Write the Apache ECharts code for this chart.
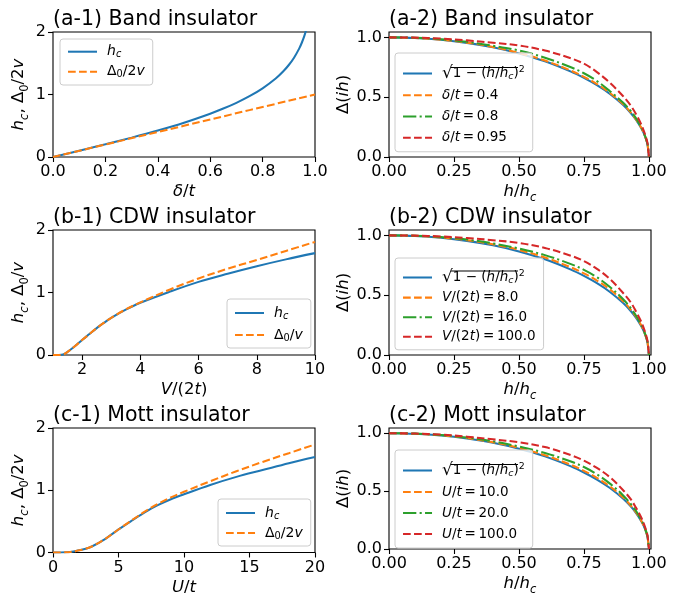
<!DOCTYPE html>
<html>
<head>
<meta charset="utf-8">
<script src="https://cdn.jsdelivr.net/npm/echarts@6/dist/echarts.min.js"></script>
<style>
html,body{margin:0;padding:0;background:#fff;}
#chart{width:681px;height:597px;}
</style>
</head>
<body>
<div id="chart"></div>
<script>
// ---------- DATA ----------
// (a-1) Band insulator
const deltaA = [0, 0.1, 0.2, 0.3, 0.4, 0.5, 0.6, 0.65, 0.7, 0.75, 0.8, 0.85, 0.88, 0.9, 0.92, 0.94, 0.95, 0.96, 0.97];
const hcA    = [0, 0.1, 0.203, 0.31, 0.424, 0.549, 0.693, 0.775, 0.867, 0.973, 1.099, 1.256, 1.376, 1.472, 1.589, 1.738, 1.832, 1.946, 2.09];
const deltaA_gap = [0, 0.25, 0.5, 0.75, 1.0];
const gapA       = [0, 0.25, 0.5, 0.75, 1.0];

// (b-1) CDW insulator
const vB  = [1.0, 1.2, 1.35, 1.5, 1.75, 2.0, 2.25, 2.5, 2.75, 3.0, 3.5, 4.0, 5.0, 6.0, 7.0, 8.0, 9.0, 10.0];
const hcB = [0, 0, 0.008, 0.05, 0.14, 0.24, 0.335, 0.43, 0.515, 0.595, 0.725, 0.835, 1.01, 1.17, 1.30, 1.42, 1.53, 1.63];
const gapB= [0, 0, 0.008, 0.05, 0.14, 0.24, 0.335, 0.43, 0.515, 0.595, 0.73, 0.842, 1.045, 1.225, 1.38, 1.52, 1.665, 1.81];

// (c-1) Mott insulator
const uC  = [0, 1, 2, 2.5, 3, 4, 5, 6, 7, 8, 9, 10, 12, 14, 16, 18, 20];
const hcC = [0, 0.003, 0.035, 0.06, 0.1, 0.22, 0.37, 0.51, 0.645, 0.76, 0.855, 0.935, 1.085, 1.215, 1.325, 1.435, 1.535];
const gapC= [0, 0.003, 0.035, 0.06, 0.1, 0.22, 0.37, 0.515, 0.655, 0.78, 0.885, 0.975, 1.145, 1.305, 1.455, 1.595, 1.735];

// right column: Delta(ih) vs h/hc
const hx      = [0, 0.1, 0.2, 0.3, 0.4, 0.5, 0.6, 0.7, 0.75, 0.8, 0.85, 0.9, 0.93, 0.95, 0.97, 0.98, 0.99, 0.995, 1.0];
const sqrtRef = [1, 0.995, 0.980, 0.954, 0.917, 0.866, 0.800, 0.714, 0.661, 0.600, 0.527, 0.436, 0.368, 0.312, 0.243, 0.199, 0.141, 0.100, 0];
// (a-2)
const a2_04  = [1, 0.995, 0.981, 0.956, 0.920, 0.870, 0.806, 0.722, 0.670, 0.610, 0.535, 0.443, 0.373, 0.316, 0.246, 0.201, 0.142, 0.101, 0];
const a2_08  = [1, 0.997, 0.985, 0.963, 0.930, 0.890, 0.830, 0.750, 0.700, 0.635, 0.550, 0.455, 0.385, 0.325, 0.252, 0.205, 0.145, 0.103, 0];
const a2_095 = [1, 0.998, 0.990, 0.975, 0.955, 0.932, 0.890, 0.825, 0.780, 0.710, 0.620, 0.510, 0.430, 0.360, 0.275, 0.220, 0.155, 0.110, 0];
// (b-2)
const b2_8   = [1, 0.996, 0.983, 0.960, 0.925, 0.878, 0.815, 0.733, 0.682, 0.622, 0.548, 0.452, 0.380, 0.322, 0.250, 0.204, 0.144, 0.102, 0];
const b2_16  = [1, 0.997, 0.986, 0.965, 0.933, 0.890, 0.835, 0.760, 0.712, 0.650, 0.568, 0.468, 0.392, 0.330, 0.255, 0.207, 0.146, 0.103, 0];
const b2_100 = [1, 0.998, 0.991, 0.978, 0.960, 0.937, 0.895, 0.830, 0.785, 0.720, 0.635, 0.520, 0.440, 0.365, 0.280, 0.225, 0.158, 0.112, 0];
// (c-2)
const c2_10  = [1, 0.995, 0.982, 0.958, 0.922, 0.873, 0.810, 0.727, 0.675, 0.615, 0.540, 0.447, 0.376, 0.318, 0.247, 0.202, 0.143, 0.101, 0];
const c2_20  = [1, 0.997, 0.985, 0.963, 0.930, 0.885, 0.830, 0.755, 0.708, 0.645, 0.565, 0.465, 0.390, 0.330, 0.255, 0.207, 0.146, 0.103, 0];
const c2_100 = [1, 0.997, 0.988, 0.970, 0.947, 0.922, 0.880, 0.810, 0.763, 0.700, 0.620, 0.510, 0.430, 0.358, 0.275, 0.222, 0.156, 0.110, 0];

// tick labels
const ticksA1x = [0, 0.2, 0.4, 0.6, 0.8, 1.0];
const ticksB1x = [2, 4, 6, 8, 10];
const ticksC1x = [0, 5, 10, 15, 20];
const ticksLy  = [0, 1, 2];
const ticksRx  = [0, 0.25, 0.5, 0.75, 1.0];
const ticksRy  = [0, 0.5, 1.0];

const titles = ['(a-1) Band insulator', '(a-2) Band insulator',
                '(b-1) CDW insulator', '(b-2) CDW insulator',
                '(c-1) Mott insulator', '(c-2) Mott insulator'];

// ---------- STYLE ----------
const FONT = 'DejaVu Sans';
const C = {blue:'#1f77b4', orange:'#ff7f0e', green:'#2ca02c', red:'#d62728'};
const LW = 2.05;
const DASH = [7.7, 3.3];
const DASHDOT = [13.3, 3.3, 2.1, 3.3];
const TS = '\u2009'; // thin space around "="

function rich(fs, L) {
  L = L || Math.round(fs * 1.45);
  return {
    n:  {fontFamily: FONT, fontSize: fs, color: '#000', lineHeight: L},
    i:  {fontFamily: FONT, fontSize: fs, fontStyle: 'italic', color: '#000', lineHeight: L},
    s:  {fontFamily: FONT, fontSize: fs * 0.7, fontStyle: 'italic', color: '#000', verticalAlign: 'bottom', lineHeight: fs * 0.72},
    sn: {fontFamily: FONT, fontSize: fs * 0.7, color: '#000', verticalAlign: 'bottom', lineHeight: fs * 0.72},
    sup:{fontFamily: FONT, fontSize: fs * 0.7, color: '#000', verticalAlign: 'top', lineHeight: fs * 0.72},
    r:  {fontFamily: FONT, fontSize: 17, color: '#000', lineHeight: L},
    g:  {width: 5, lineHeight: L}
  };
}

const EQ = '{n|' + TS + '=' + TS;
const LEGEND_TEXT = {
  a1_hc: '{g|}{i|h}{s|c}',
  a1_gap: '{g|}{n|Δ}{sn|0}{n|/2}{i|v}',
  b1_hc: '{g|}{i|h}{s|c}',
  b1_gap: '{g|}{n|Δ}{sn|0}{n|/}{i|v}',
  c1_hc: '{g|}{i|h}{s|c}',
  c1_gap: '{g|}{n|Δ}{sn|0}{n|/2}{i|v}',
  a2_ref: '{g|}{r|√}{n|1 − (}{i|h}{n|/}{i|h}{s|c}{n|)}{sup|2}',
  b2_ref: '{g|}{r|√}{n|1 − (}{i|h}{n|/}{i|h}{s|c}{n|)}{sup|2}',
  c2_ref: '{g|}{r|√}{n|1 − (}{i|h}{n|/}{i|h}{s|c}{n|)}{sup|2}',
  a2_1: '{g|}{i|δ}{n|/}{i|t}' + EQ + '0.4}',
  a2_2: '{g|}{i|δ}{n|/}{i|t}' + EQ + '0.8}',
  a2_3: '{g|}{i|δ}{n|/}{i|t}' + EQ + '0.95}',
  b2_1: '{g|}{i|V}{n|/(2}{i|t}{n|)}' + EQ + '8.0}',
  b2_2: '{g|}{i|V}{n|/(2}{i|t}{n|)}' + EQ + '16.0}',
  b2_3: '{g|}{i|V}{n|/(2}{i|t}{n|)}' + EQ + '100.0}',
  c2_1: '{g|}{i|U}{n|/}{i|t}' + EQ + '10.0}',
  c2_2: '{g|}{i|U}{n|/}{i|t}' + EQ + '20.0}',
  c2_3: '{g|}{i|U}{n|/}{i|t}' + EQ + '100.0}'
};

function zip(xs, ys) { return xs.map((x, k) => [x, ys[k]]); }

const rowTop = [32, 230, 428];
const colLeft = [53, 389];
const GW = 262, GH = 125;

const grids = [], xAxes = [], yAxes = [], titleArr = [], series = [], legends = [];
const titleTop = [9, 207, 405];

for (let r = 0; r < 3; r++) {
  for (let c = 0; c < 2; c++) {
    grids.push({left: colLeft[c], top: rowTop[r], width: GW, height: GH, show: true,
      borderColor: '#000', borderWidth: 1.1, backgroundColor: 'transparent', containLabel: false});
    titleArr.push({text: titles[r * 2 + c], left: colLeft[c], top: titleTop[r], padding: 0,
      textStyle: {fontFamily: FONT, fontSize: 20.5, fontWeight: 'normal', color: '#000'}});
  }
}

function axisCommon(idx) {
  return {
    gridIndex: idx, type: 'value',
    axisLine: {show: false},
    axisTick: {show: true, inside: false, length: 5, lineStyle: {color: '#000', width: 1.1}},
    splitLine: {show: false},
    axisLabel: {fontFamily: FONT, fontSize: 16, color: '#000', margin: 7},
    nameLocation: 'middle',
    nameTextStyle: {fontFamily: FONT, fontSize: 16.5, color: '#000', rich: rich(16.5)}
  };
}

const xCfg = [
  {min: 0, max: 1, interval: 0.2, ticks: ticksA1x, fmt: v => v.toFixed(1), name: '{i|δ}{n|/}{i|t}'},
  {min: 0, max: 1.008, interval: 0.25, ticks: ticksRx, fmt: v => v.toFixed(2), name: '{i|h}{n|/}{i|h}{s|c}'},
  {min: 1, max: 10, interval: 1, ticks: ticksB1x, fmt: v => String(v), name: '{i|V}{n|/(2}{i|t}{n|)}'},
  {min: 0, max: 1.008, interval: 0.25, ticks: ticksRx, fmt: v => v.toFixed(2), name: '{i|h}{n|/}{i|h}{s|c}'},
  {min: 0, max: 20, interval: 5, ticks: ticksC1x, fmt: v => String(v), name: '{i|U}{n|/}{i|t}'},
  {min: 0, max: 1.008, interval: 0.25, ticks: ticksRx, fmt: v => v.toFixed(2), name: '{i|h}{n|/}{i|h}{s|c}'}
];
const yCfg = [
  {min: 0, max: 2, interval: 1, ticks: ticksLy, fmt: v => String(v), name: '{i|h}{s|c}{n|, Δ}{sn|0}{n|/2}{i|v}', gap: 22},
  {min: 0, max: 1.045, interval: 0.5, ticks: ticksRy, fmt: v => v.toFixed(1), name: '{n|Δ(}{i|ih}{n|)}', gap: 30},
  {min: 0, max: 2, interval: 1, ticks: ticksLy, fmt: v => String(v), name: '{i|h}{s|c}{n|, Δ}{sn|0}{n|/}{i|v}', gap: 22},
  {min: 0, max: 1.045, interval: 0.5, ticks: ticksRy, fmt: v => v.toFixed(1), name: '{n|Δ(}{i|ih}{n|)}', gap: 30},
  {min: 0, max: 2, interval: 1, ticks: ticksLy, fmt: v => String(v), name: '{i|h}{s|c}{n|, Δ}{sn|0}{n|/2}{i|v}', gap: 22},
  {min: 0, max: 1.045, interval: 0.5, ticks: ticksRy, fmt: v => v.toFixed(1), name: '{n|Δ(}{i|ih}{n|)}', gap: 30}
];

for (let k = 0; k < 6; k++) {
  const xc = xCfg[k], yc = yCfg[k];
  const xa = axisCommon(k);
  Object.assign(xa, {min: xc.min, max: xc.max, interval: xc.interval, name: xc.name, nameGap: 23});
  xa.axisLabel = Object.assign({}, xa.axisLabel, {customValues: xc.ticks, formatter: xc.fmt, showMinLabel: true, showMaxLabel: true});
  xa.axisTick = Object.assign({}, xa.axisTick, {customValues: xc.ticks});
  xAxes.push(xa);
  const ya = axisCommon(k);
  Object.assign(ya, {min: yc.min, max: yc.max, interval: yc.interval, name: yc.name, nameGap: yc.gap, nameRotate: 90});
  ya.axisLabel = Object.assign({}, ya.axisLabel, {customValues: yc.ticks, formatter: yc.fmt});
  ya.axisTick = Object.assign({}, ya.axisTick, {customValues: yc.ticks});
  yAxes.push(ya);
}

function line(name, idx, xs, ys, color, dash) {
  return {
    name: name, type: 'line', xAxisIndex: idx, yAxisIndex: idx,
    data: zip(xs, ys), symbol: 'none', showSymbol: false,
    smooth: 0.35, clip: true, animation: false,
    lineStyle: {color: color, width: LW, type: dash || 'solid', cap: 'butt'},
    itemStyle: {color: color}
  };
}

// left column
series.push(line('a1_hc', 0, deltaA, hcA, C.blue));
series.push(line('a1_gap', 0, deltaA_gap, gapA, C.orange, DASH));
series.push(line('b1_hc', 2, vB, hcB, C.blue));
series.push(line('b1_gap', 2, vB, gapB, C.orange, DASH));
series.push(line('c1_hc', 4, uC, hcC, C.blue));
series.push(line('c1_gap', 4, uC, gapC, C.orange, DASH));
// right column
series.push(line('a2_ref', 1, hx, sqrtRef, C.blue));
series.push(line('a2_1', 1, hx, a2_04, C.orange, DASH));
series.push(line('a2_2', 1, hx, a2_08, C.green, DASHDOT));
series.push(line('a2_3', 1, hx, a2_095, C.red, DASH));
series.push(line('b2_ref', 3, hx, sqrtRef, C.blue));
series.push(line('b2_1', 3, hx, b2_8, C.orange, DASH));
series.push(line('b2_2', 3, hx, b2_16, C.green, DASHDOT));
series.push(line('b2_3', 3, hx, b2_100, C.red, DASH));
series.push(line('c2_ref', 5, hx, sqrtRef, C.blue));
series.push(line('c2_1', 5, hx, c2_10, C.orange, DASH));
series.push(line('c2_2', 5, hx, c2_20, C.green, DASHDOT));
series.push(line('c2_3', 5, hx, c2_100, C.red, DASH));

function legend(names, left, top, padding, gap, fs) {
  return {
    data: names, orient: 'vertical', left: left, top: top,
    itemWidth: 29, itemHeight: 20, itemGap: gap,
    padding: padding,
    backgroundColor: 'rgba(255,255,255,0.8)', borderColor: '#cccccc', borderWidth: 1, borderRadius: 3,
    selectedMode: false,
    itemStyle: {opacity: 0},
    lineStyle: {width: LW},
    textStyle: {fontFamily: FONT, fontSize: fs, color: '#000', rich: rich(fs, 16)},
    formatter: n => LEGEND_TEXT[n]
  };
}
legends.push(legend(['a1_hc', 'a1_gap'], 60, 39, [4.7, 8, 5.3, 7], 4, 14));
legends.push(legend(['a2_ref', 'a2_1', 'a2_2', 'a2_3'], 395, 53, [12, 8, 6, 7], 5.25, 13.5));
legends.push(legend(['b1_hc', 'b1_gap'], 227, 299, [6, 8, 5, 7], 6, 14));
legends.push(legend(['b2_ref', 'b2_1', 'b2_2', 'b2_3'], 395, 258, [11, 8, 5, 7], 3.6, 13.5));
legends.push(legend(['c1_hc', 'c1_gap'], 218, 499, [6, 8, 5, 7], 4, 14));
legends.push(legend(['c2_ref', 'c2_1', 'c2_2', 'c2_3'], 395, 450, [12, 8, 6, 7], 5, 13.5));

// overline of the square-root sign in the three right-hand legends
const overY = [67.5, 271, 464.5];
const graphic = overY.map(y => ({
  type: 'line', shape: {x1: 451, y1: y, x2: 518, y2: y},
  style: {stroke: '#000', lineWidth: 1.2}, z: 100
}));

const chart = echarts.init(document.getElementById('chart'), null, {renderer: 'canvas'});
chart.setOption({
  animation: false,
  backgroundColor: '#fff',
  title: titleArr,
  grid: grids,
  xAxis: xAxes,
  yAxis: yAxes,
  legend: legends,
  series: series,
  graphic: graphic
});
</script>
</body>
</html>
